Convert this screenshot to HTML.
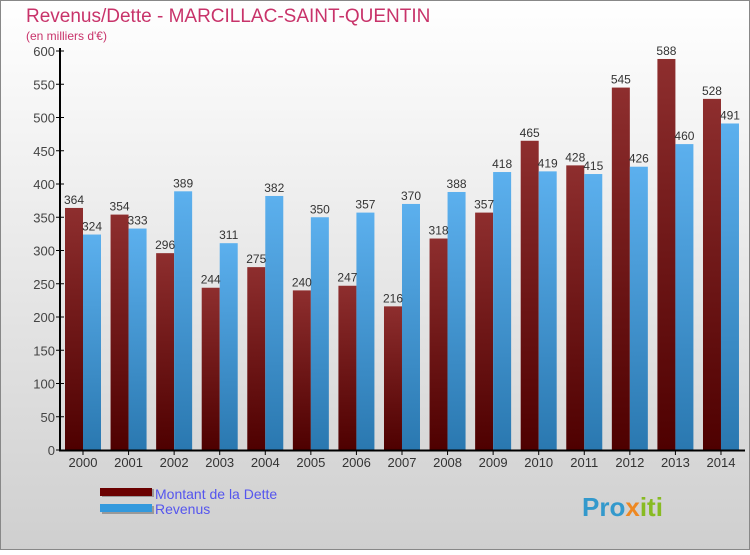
<!DOCTYPE html>
<html><head><meta charset="utf-8"><style>
body{margin:0;width:750px;height:550px;overflow:hidden;font-family:"Liberation Sans",sans-serif}
</style></head><body>
<svg width="750" height="550" xmlns="http://www.w3.org/2000/svg">
<defs>
<linearGradient id="bg" x1="0" y1="0" x2="0" y2="1"><stop offset="0" stop-color="#ffffff"/><stop offset="1" stop-color="#cfcfcf"/></linearGradient>
<linearGradient id="gd" x1="0" y1="0" x2="0" y2="1"><stop offset="0" stop-color="#8e2e2e"/><stop offset="1" stop-color="#4e0000"/></linearGradient>
<linearGradient id="gr" x1="0" y1="0" x2="0" y2="1"><stop offset="0" stop-color="#5cb0ee"/><stop offset="1" stop-color="#2a78b0"/></linearGradient>
</defs>
<rect x="0.5" y="0.5" width="749" height="549" fill="url(#bg)" stroke="#888"/>
<text x="26" y="22" font-size="19" fill="#c8336a">Revenus/Dette - MARCILLAC-SAINT-QUENTIN</text>
<text x="26" y="40" font-size="12" fill="#c8336a">(en milliers d'€)</text>
<g id="ticks"></g>
<g id="bars"></g>
<line x1="60" y1="48" x2="60" y2="451" stroke="#000" stroke-width="2"/>
<line x1="59" y1="450.5" x2="745" y2="450.5" stroke="#000" stroke-width="2"/>
<g>
<rect x="102" y="489" width="52" height="8" fill="#999"/>
<rect x="100" y="488" width="52" height="8" fill="#6a0000"/>
<text x="155" y="499" font-size="14" fill="#5555ee">Montant de la Dette</text>
<rect x="102" y="506" width="52" height="8" fill="#999"/>
<rect x="100" y="504" width="52" height="8" fill="#3399dd"/>
<text x="155" y="514" font-size="14" fill="#5555ee">Revenus</text>
</g>
<text x="582" y="516" font-size="26" font-weight="bold" fill="#3399cc">Pro<tspan fill="#ee8822">x</tspan><tspan fill="#88bb22">iti</tspan></text>
</svg>
<script>
const years=["2000","2001","2002","2003","2004","2005","2006","2007","2008","2009","2010","2011","2012","2013","2014"];
const dette=[364,354,296,244,275,240,247,216,318,357,465,428,545,588,528];
const revenus=[324,333,389,311,382,350,357,370,388,418,419,415,426,460,491];
const yTicks=[0,50,100,150,200,250,300,350,400,450,500,550,600];
const NS="http://www.w3.org/2000/svg";
const y=v=>450-v*(399/600);
const xc=i=>83+i*45.57;
const tg=document.getElementById('ticks'),bg=document.getElementById('bars');
function mk(tag,attrs,parent){const e=document.createElementNS(NS,tag);for(const k in attrs)e.setAttribute(k,attrs[k]);parent.appendChild(e);return e;}
yTicks.forEach(t=>{
 const l=mk('line',{x1:56,x2:64,y1:y(t),y2:y(t),stroke:'#000'},tg);
 
 
 const tx=mk('text',{x:55,y:y(t)+5,'font-size':13,fill:'#444','text-anchor':'end'},tg);
 tx.textContent=t;
 
 
});
years.forEach((yr,i)=>{
 const c=xc(i);
 const d=mk('rect',{x:c-18,y:y(dette[i]),width:18,height:450-y(dette[i]),fill:'url(#gd)'},bg);
 
 
 const r=mk('rect',{x:c,y:y(revenus[i]),width:18,height:450-y(revenus[i]),fill:'url(#gr)'},bg);
 
 
 const t1=mk('text',{x:c-9,y:y(dette[i])-4,'font-size':12,fill:'#333','text-anchor':'middle'},bg);
 t1.textContent=dette[i];
 
 
 const t2=mk('text',{x:c+9,y:y(revenus[i])-4,'font-size':12,fill:'#333','text-anchor':'middle'},bg);
 t2.textContent=revenus[i];
 
 
 const tk=mk('line',{x1:c,x2:c,y1:450,y2:455,stroke:'#000'},bg);
 
 
 const xl=mk('text',{x:c,y:467,'font-size':13,fill:'#333','text-anchor':'middle'},bg);
 xl.textContent=yr;
 
 
});
</script>
</body></html>
